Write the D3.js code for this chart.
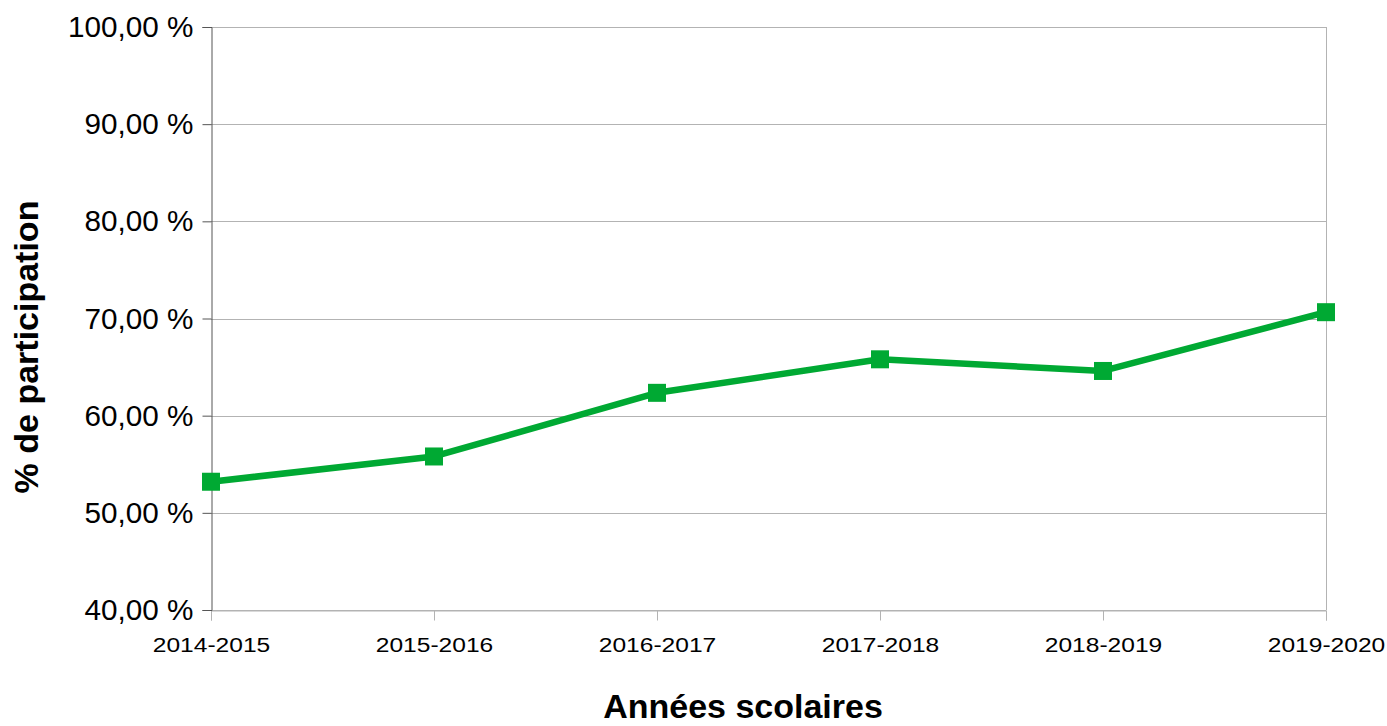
<!DOCTYPE html>
<html>
<head>
<meta charset="utf-8">
<script src="https://cdn.jsdelivr.net/npm/d3@7"></script>
<style>
  body { margin: 0; background: #fff; }
  text { font-family: "Liberation Sans", Arial, sans-serif; fill: #000; }
</style>
</head>
<body>
<div class="chart"></div>
<script>
// data
const years = ["2014-2015", "2015-2016", "2016-2017", "2017-2018", "2018-2019", "2019-2020"];
const participation = [53.2, 55.8, 62.35, 65.8, 64.6, 70.65];
const yTicks = [40, 50, 60, 70, 80, 90, 100];

const svgWidth = 1387;
const svgHeight = 726;

const chartMargin = {
    top: 27,
    right: 61,
    bottom: 116,
    left: 211
};

const width = svgWidth - chartMargin.left - chartMargin.right;
const height = svgHeight - chartMargin.top - chartMargin.bottom;

let svg = d3.select(".chart")
    .append("svg")
    .attr("width", svgWidth)
    .attr("height", svgHeight);

const chartGroup = svg.append("g")
    .attr("transform", `translate(${chartMargin.left}, ${chartMargin.top})`);

const xScale = d3.scalePoint()
    .domain(years)
    .range([0, width]);

const yScale = d3.scaleLinear()
    .domain([40, 100])
    .range([height, 0]);

// gridlines
chartGroup.append("g")
    .selectAll("line")
    .data(yTicks)
    .enter()
    .append("line")
    .attr("x1", 0)
    .attr("x2", width)
    .attr("y1", d => Math.round(yScale(d)) + 0.5)
    .attr("y2", d => Math.round(yScale(d)) + 0.5)
    .attr("stroke", "#b3b3b3")
    .attr("stroke-width", 1);

// right border
chartGroup.append("line")
    .attr("x1", width + 0.5)
    .attr("x2", width + 0.5)
    .attr("y1", 0)
    .attr("y2", height)
    .attr("stroke", "#b3b3b3");

// x axis
let xAxis = d3.axisBottom(xScale).tickSize(10).tickPadding(17);
let xg = chartGroup.append("g")
    .attr("transform", `translate(0, ${height + 0.5})`)
    .call(xAxis);
xg.select(".domain").attr("stroke", "#b3b3b3");
xg.selectAll(".tick line").attr("stroke", "#b3b3b3");
xg.selectAll(".tick text")
    .attr("font-size", "21px")
    .attr("font-family", "Liberation Sans, Arial, sans-serif")
    .attr("fill", "#000")
    .attr("transform", "scale(1.17, 1)");

// y axis
let yAxis = d3.axisLeft(yScale)
    .tickValues(yTicks)
    .tickSize(9)
    .tickPadding(8)
    .tickFormat(d => d3.format(".2f")(d).replace(".", ",") + " %");
let yg = chartGroup.append("g")
    .attr("transform", "translate(0.5, 0)")
    .call(yAxis);
yg.select(".domain").attr("stroke", "#555");
yg.selectAll(".tick line").attr("stroke", "#555");
yg.selectAll(".tick text")
    .attr("font-size", "30px")
    .attr("font-family", "Liberation Sans, Arial, sans-serif")
    .attr("fill", "#000")
    .attr("x", 0)
    .attr("transform", "translate(-18, 0) scale(0.99, 1)");

// line
const line = d3.line()
    .x((d, i) => xScale(years[i]))
    .y(d => yScale(d));

chartGroup.append("path")
    .datum(participation)
    .attr("d", line)
    .attr("fill", "none")
    .attr("stroke", "#00a933")
    .attr("stroke-width", 6.5)
    .attr("stroke-linejoin", "round");

// markers
chartGroup.selectAll(".marker")
    .data(participation)
    .enter()
    .append("rect")
    .attr("class", "marker")
    .attr("x", (d, i) => xScale(years[i]) - 9)
    .attr("y", d => yScale(d) - 9)
    .attr("width", 18)
    .attr("height", 18)
    .attr("fill", "#00a933");

// axis titles
chartGroup.append("text")
    .attr("transform", `translate(${-173}, ${320}) rotate(-90)`)
    .attr("text-anchor", "middle")
    .attr("font-size", "34px")
    .attr("font-weight", "bold")
    .text("% de participation");

chartGroup.append("text")
    .attr("x", 532)
    .attr("y", height + 108)
    .attr("text-anchor", "middle")
    .attr("font-size", "34px")
    .attr("font-weight", "bold")
    .text("Années scolaires");
</script>
</body>
</html>
